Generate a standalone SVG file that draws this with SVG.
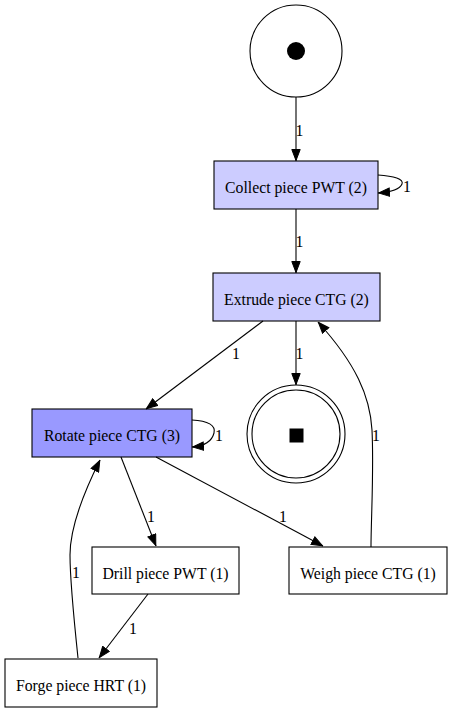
<svg xmlns="http://www.w3.org/2000/svg" width="452" height="712" viewBox="0 0 452 712" font-family="'Liberation Serif','Times New Roman',serif" font-size="15.75">
<defs>
<marker id="ah" viewBox="0 0 12 10" refX="12" refY="5" markerWidth="12" markerHeight="10" markerUnits="userSpaceOnUse" orient="auto">
<path d="M0.5,0.8 L11.5,5 L0.5,9.2 Z" fill="#000" stroke="#000" stroke-width="1"/>
</marker>
</defs>
<style>
text{font-family:'Liberation Serif','Times New Roman',serif;font-size:15.75px;fill:#000;text-anchor:middle}
.box{stroke:#000;stroke-width:1.1}
.e path{fill:none;stroke:#000;stroke-width:1.1;marker-end:url(#ah)}
.pl{fill:#fff;stroke:#000;stroke-width:1.1}
</style>
<rect width="452" height="712" fill="#fff"/>
<g id="start">
<circle class="pl" cx="296" cy="51" r="46"/>
<circle cx="296" cy="51" r="9" fill="#000"/>
</g>
<g id="end">
<circle class="pl" cx="296" cy="434" r="49"/>
<circle class="pl" cx="296" cy="434" r="44"/>
<rect x="289.5" y="428.5" width="14" height="14" fill="#000"/>
</g>
<g id="collect">
<rect class="box" x="214" y="161" width="164" height="48" fill="#ccccff"/>
<text x="296" y="192.5">Collect piece PWT (2)</text>
</g>
<g id="extrude">
<rect class="box" x="213" y="273" width="167" height="48" fill="#ccccff"/>
<text x="296.5" y="304.5">Extrude piece CTG (2)</text>
</g>
<g id="rotate">
<rect class="box" x="32" y="409" width="160" height="48" fill="#9999ff"/>
<text x="112" y="440.5">Rotate piece CTG (3)</text>
</g>
<g id="drill">
<rect class="box" x="92" y="547" width="147" height="47" fill="#fff"/>
<text x="165.5" y="578.5">Drill piece PWT (1)</text>
</g>
<g id="weigh">
<rect class="box" x="289" y="547" width="158" height="47" fill="#fff"/>
<text x="368" y="578.5">Weigh piece CTG (1)</text>
</g>
<g id="forge">
<rect class="box" x="5" y="659" width="152" height="48" fill="#fff"/>
<text x="81" y="690.5">Forge piece HRT (1)</text>
</g>
<g id="connectors" class="e">
<path d="M296,97 L296,161"/>
<text x="299.5" y="136">1</text>
<path d="M378,175 C394,176 404,179 402,184 C400,189 392,192 378,193"/>
<text x="407" y="192">1</text>
<path d="M296,209 L296,273"/>
<text x="299.5" y="247">1</text>
<path d="M263,321 L146,409"/>
<text x="236" y="359">1</text>
<path d="M296,321 L296,385"/>
<text x="299.5" y="359">1</text>
<path d="M192,420 C208,421 216,425 214,433 C212,441 206,446 192,447"/>
<text x="219" y="441">1</text>
<path d="M371,547 C371,520 374,470 372,430 C370,396 356,364 318,322"/>
<text x="376" y="441">1</text>
<path d="M121,457 L156,546"/>
<text x="151" y="522">1</text>
<path d="M156,457 L323,546"/>
<text x="283" y="522">1</text>
<path d="M148,594 L99,658"/>
<text x="133" y="634">1</text>
<path d="M78,658 C74,620 70,580 70,555 C70,525 85,490 100,460"/>
<text x="76" y="578">1</text>
</g>
</svg>
